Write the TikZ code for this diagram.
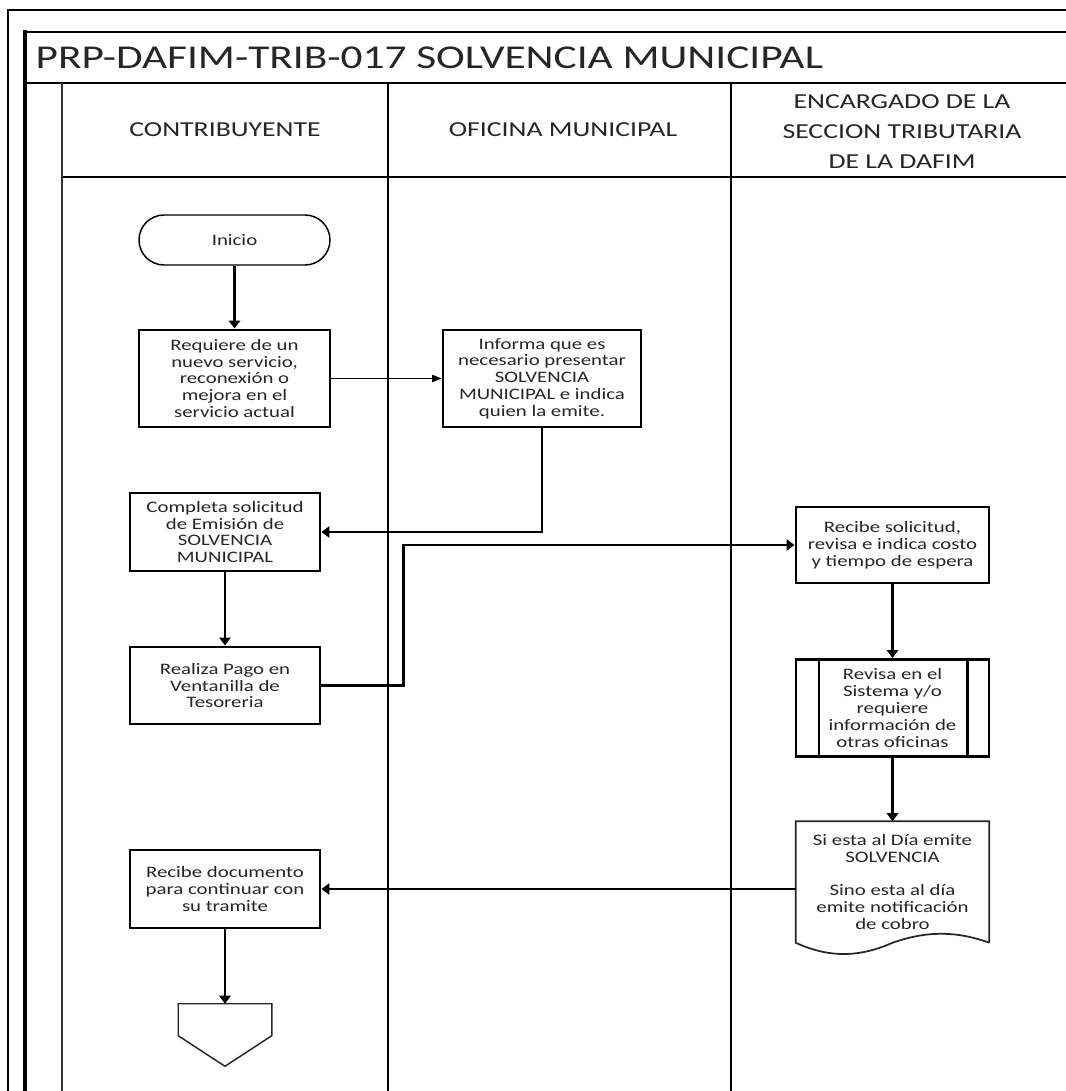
\documentclass[tikz,border=0pt]{standalone}
\usepackage{fontspec}
\setmainfont{Carlito}[FakeStretch=1.3]
\usetikzlibrary{arrows.meta,calc}

\begin{document}
\begin{tikzpicture}[x=0.75pt,y=-0.75pt,
  every node/.style={font=\fontsize{12}{12.6}\selectfont, text=black!85},
  proc/.style={draw=black, line width=2.2pt, align=center, inner sep=2pt,
    minimum width=191*0.75pt},
  term/.style={draw=black, line width=1.1pt, rounded corners=25*0.75pt,
    minimum width=191*0.75pt, minimum height=50*0.75pt},
  lanehead/.style={align=center, font=\fontsize{16}{22.5}\selectfont},
  arr/.style={draw=black, line width=1.9pt, -{Triangle[length=6pt,width=8.5pt]}},
  thinarr/.style={draw=black, line width=1.0pt, -{Triangle[length=7pt,width=5.5pt]}},
  docline/.style={draw=black!85, line width=1.3pt},
]
\useasboundingbox (0,0) rectangle (1066,1091);
\fill[white] (0,0) rectangle (1066,1091);
\clip (0,0) rectangle (1066,1091);

% outer frame and pool
\draw[line width=2.2pt] (8,1095) -- (8,10) -- (1070,10);
\draw[line width=1.5pt] (1070,32) -- (25,32);
\draw[line width=3.4pt] (25,30.5) -- (25,1095);
\draw[line width=1.5pt] (25,83) -- (1070,83);
\draw[line width=1.5pt] (62,177) -- (1070,177);

% lane separators
\draw[line width=1.4pt, black!80] (62,83) -- (62,1095);
\draw[line width=1.8pt] (388,83) -- (388,1095);
\draw[line width=2.2pt] (731,83) -- (731,1095);

% title and lane headers
\node[anchor=west, font=\fontsize{25}{28}\selectfont] (title) at (31,58)
  {PRP-DAFIM-TRIB-017 SOLVENCIA MUNICIPAL};
\node[lanehead] (lane1) at (225,130) {CONTRIBUYENTE};
\node[lanehead] (lane2) at (563,130) {OFICINA MUNICIPAL};
\node[lanehead] (lane3) at (902,132) {ENCARGADO DE LA\\SECCION TRIBUTARIA\\DE LA DAFIM};

% steps
\node[term] (inicio) at (234.5,240) {Inicio};
\node[proc, minimum height=97*0.75pt] (req) at (234.5,378.5)
  {Requiere de un\\nuevo servicio,\\reconexión o\\mejora en el\\servicio actual};
\node[proc, minimum width=198*0.75pt, minimum height=97*0.75pt] (inf) at (542,378.5)
  {Informa que es\\necesario presentar\\SOLVENCIA\\MUNICIPAL e indica\\quien la emite.};
\node[proc, minimum width=190*0.75pt, minimum height=78*0.75pt] (comp) at (225,532)
  {Completa solicitud\\de Emisión de\\SOLVENCIA\\MUNICIPAL};
\node[proc, minimum width=190*0.75pt, minimum height=77*0.75pt] (real) at (225,685.5)
  {Realiza Pago en\\Ventanilla de\\Tesoreria};
\node[proc, minimum width=193*0.75pt, minimum height=76*0.75pt] (recsol) at (892.5,545)
  {Recibe solicitud,\\revisa e indica costo\\y tiempo de espera};
\node[proc, minimum width=193*0.75pt, minimum height=97*0.75pt] (rev) at (892.5,708)
  {Revisa en el\\Sistema y/o\\requiere\\información de\\otras oficinas};
\node[align=center, inner sep=0pt, minimum width=193*0.75pt, minimum height=121*0.75pt]
  (doc) at (892.5,882)
  {Si esta al Día emite\\SOLVENCIA\\[12.6pt]Sino esta al día\\emite notificación\\de cobro};
\node[proc, minimum width=190*0.75pt, minimum height=78*0.75pt] (recdoc) at (225,889)
  {Recibe documento\\para continuar con\\su tramite};
\node[minimum width=93*0.75pt, minimum height=62*0.75pt, inner sep=0pt] (fin) at (225,1035) {};

% predefined-process side bars
\draw[line width=1.5pt] ([xshift=18pt]rev.north west) -- ([xshift=18pt]rev.south west);
\draw[line width=2.4pt] ([xshift=-17pt]rev.north east) -- ([xshift=-17pt]rev.south east);

% document outline with wavy bottom
\draw[docline] (doc.south east) -- (doc.north east) -- (doc.north west) -- (doc.south west)
  .. controls +(33,15) and +(-34,15) .. (doc.south)
  .. controls +(34,-12) and +(-33,-12) .. (doc.south east);

% off-page connector
\draw[line width=1.1pt, black!85] (fin.north west) -- (fin.north east)
  -- ($(fin.north east)+(0,32)$) -- (fin.south) -- ($(fin.north west)+(0,32)$) -- cycle;

% flow
\draw[arr] (inicio) -- (req);
\draw[thinarr] (req) -- (inf);
\draw[arr] (inf.south) |- (comp.east);
\draw[arr] (comp) -- (real);
\draw[arr] (real.east) -- ++(82,0) |- (recsol.west);
\draw[arr] (recsol) -- (rev);
\draw[arr] (rev) -- (doc);
\draw[arr] (doc.west |- recdoc.east) -- (recdoc.east);
\draw[arr] (recdoc) -- (fin);
\end{tikzpicture}
\end{document}
